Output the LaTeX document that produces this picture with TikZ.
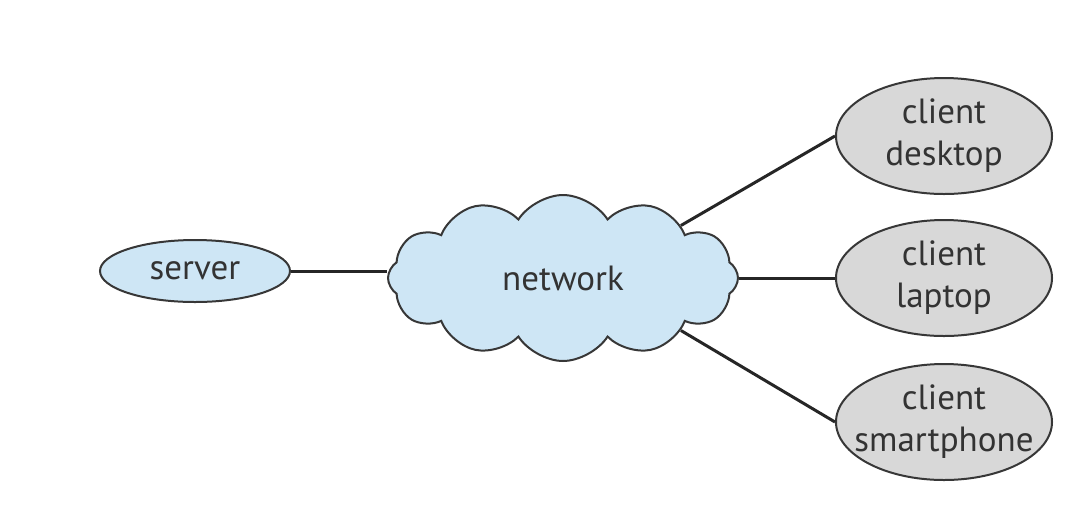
\documentclass[tikz,border=0pt]{standalone}
\usepackage{fontspec}
\setmainfont{PT Sans}
\usetikzlibrary{shapes.geometric,shapes.symbols}
\definecolor{bleu}{RGB}{206,230,245}
\definecolor{gris}{RGB}{216,216,216}
\definecolor{trait}{RGB}{55,55,55}
\tikzset{every node/.style={font=\fontsize{17.5}{21}\selectfont,text=black!80},
 host/.style={ellipse,draw=trait,line width=1pt,fill=bleu,minimum width=95pt,minimum height=31pt,inner sep=0pt},
 client/.style={ellipse,draw=trait,line width=1pt,fill=gris,minimum width=108pt,minimum height=58pt,
  inner xsep=-16pt,inner ysep=-1pt,align=center},
 link/.style={line width=1.5pt,black!85}}

\begin{document}
\begin{tikzpicture}[x=.5pt,y=-.5pt]
\useasboundingbox (0,0) rectangle (1092,510);
% Serveur et nuage du reseau.
\node[host] (srv) at (195,271){server};
\node[cloud,cloud puffs=12,cloud puff arc=115,aspect=2.1,draw=trait,line width=1pt,fill=bleu,
 minimum width=175pt,minimum height=83pt] (net) at (563,278){network};
% Les trois clients.
\node[client] (desk) at (944,136){client\\desktop};
\node[client] (lap) at (944,278){client\\laptop};
\node[client] (phone) at (944,422){client\\smartphone};
% Liaisons.
\draw[link] (srv)--(srv-|net.west);
\draw[link] (net.24)--(desk.west);
\draw[link] (net)--(lap);
\draw[link] (net.-24)--(phone.west);
\end{tikzpicture}
\end{document}
